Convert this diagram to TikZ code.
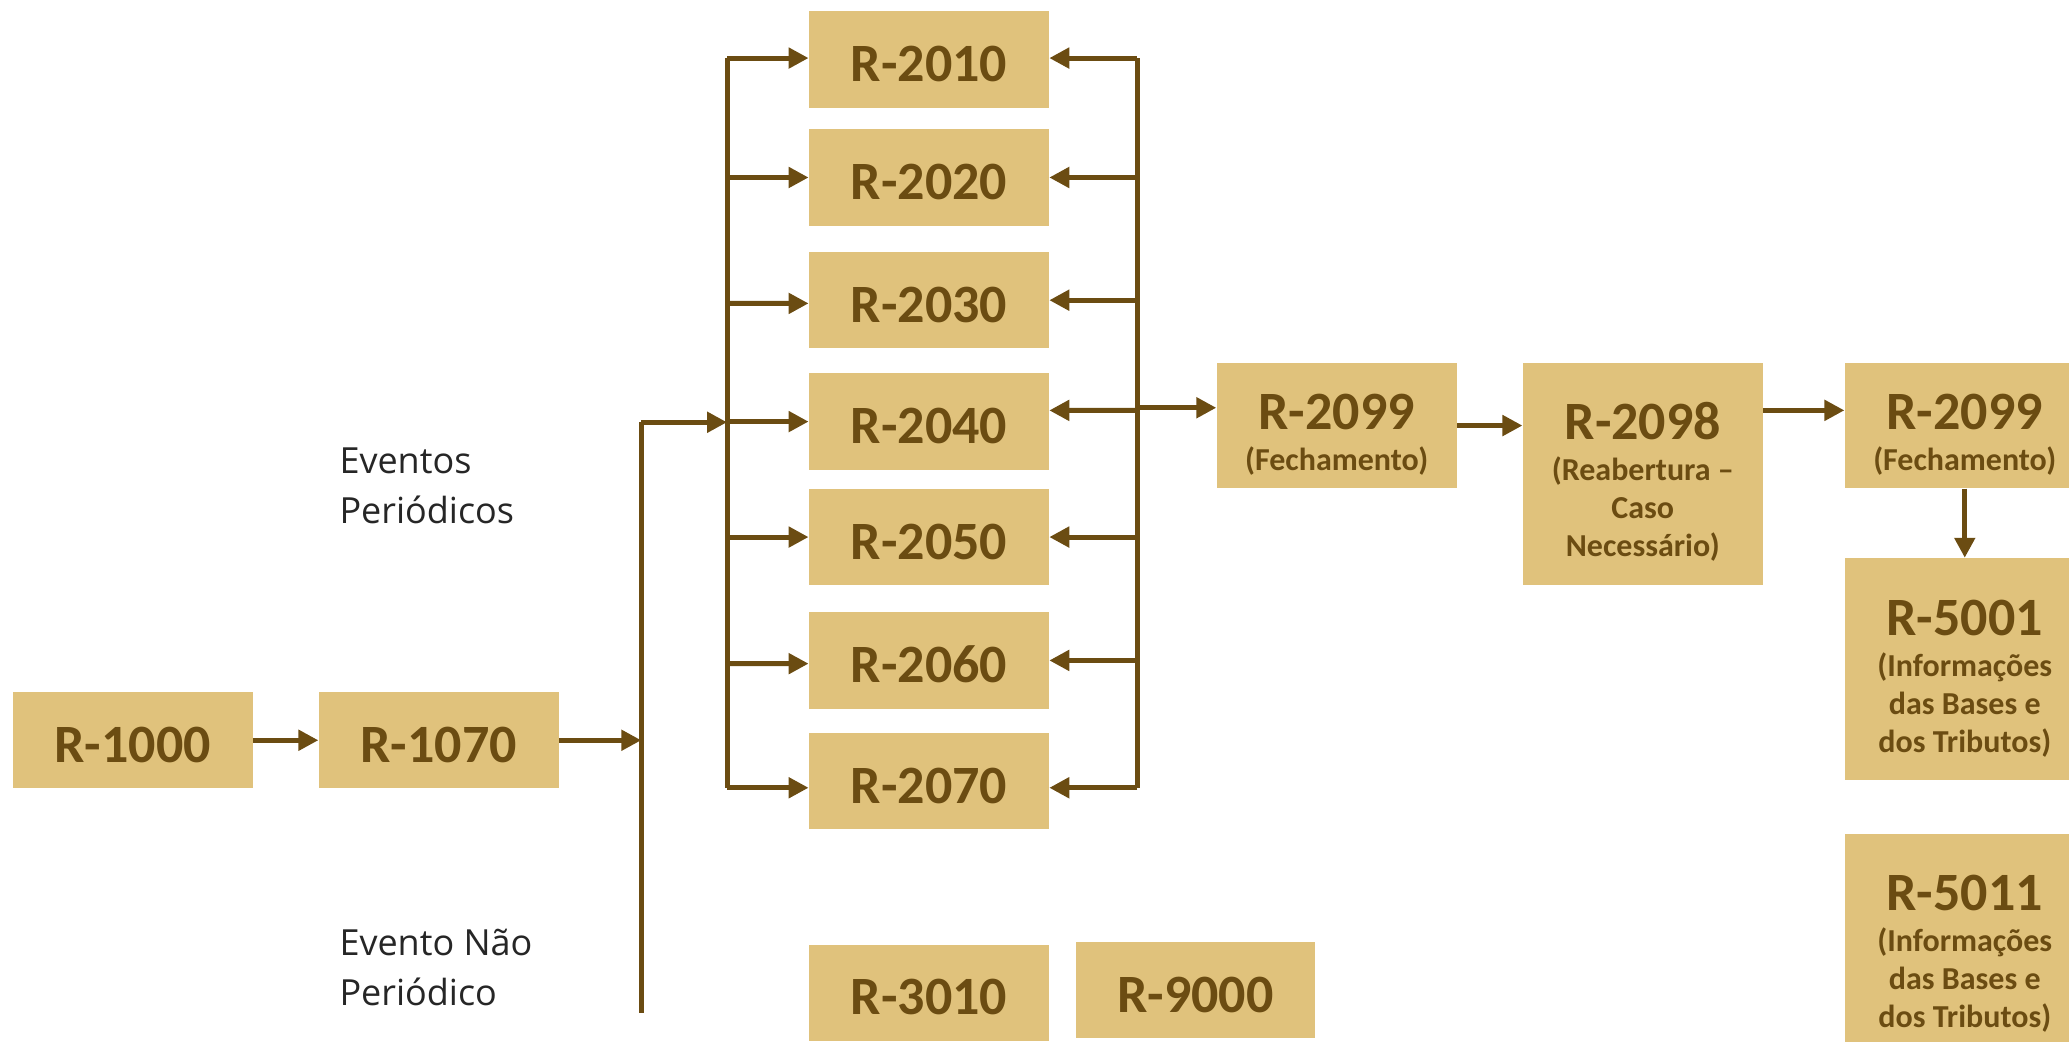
\documentclass[tikz,border=0pt]{standalone}
\usepackage{fontspec}
\setmainfont{Carlito}
\newfontfamily\sidefont{Open Sans}
\usetikzlibrary{arrows.meta,positioning}

\definecolor{boxfill}{HTML}{E0C27C}
\definecolor{boxink}{HTML}{6B4C12}
\definecolor{sideink}{HTML}{262626}

\newcommand{\regtitle}{\fontsize{27}{30}\selectfont\bfseries}
\newcommand{\regsub}{\fontsize{16}{19}\selectfont\bfseries}
\newcommand{\titlestrut}{\rule{0pt}{27pt}}

\tikzset{
  regbase/.style={fill=boxfill, text=boxink, inner sep=0pt,
    minimum width=120pt, align=center},
  reg/.style={regbase, minimum height=48.2pt, font=\regtitle,
    text height=22pt, text depth=0pt},
  regmulti/.style={regbase, font=\regsub},
  link/.style={draw=boxink, line width=2.5pt, -{Triangle[length=10pt,width=10pt]}},
  bus/.style={draw=boxink, line width=2.5pt},
  side/.style={text=sideink, inner sep=0pt, anchor=west, align=left,
    font=\sidefont\fontsize{18}{25}\selectfont}
}

\begin{document}
\begin{tikzpicture}[x=0.66pt,y=-0.66pt]
    \useasboundingbox (0,0) rectangle (1568,789);
    \clip (0,0) rectangle (1568,789);

    \node[reg] (r1000) at (100.5,561) {R-1000};
    \node[reg] (r1070) at (332.5,561) {R-1070};

    \node[reg] (r2010) at (704,45) {R-2010};
    \node[reg] (r2020) at (704,134.5) {R-2020};
    \node[reg] (r2030) at (704,227.5) {R-2030};
    \node[reg] (r2040) at (704,319.5) {R-2040};
    \node[reg] (r2050) at (704,407) {R-2050};
    \node[reg] (r2060) at (704,500.5) {R-2060};
    \node[reg] (r2070) at (704,592) {R-2070};

    \node[reg] (r3010) at (704,752.5) {R-3010};
    \node[reg] (r9000) at (906,750.5) {R-9000};

    \node[regmulti,minimum height=62.7pt] (r2099a) at (1013,322.5)
        {{\regtitle\titlestrut R-2099}\\[1.6pt](Fechamento)};
    \node[regmulti,minimum height=110.9pt] (r2098) at (1245,359)
        {{\regtitle\titlestrut R-2098}\\[1.6pt](Reabertura –\\Caso\\Necessário)};
    \node[regmulti,minimum height=62.7pt] (r2099b) at (1489,322.5)
        {{\regtitle\titlestrut R-2099}\\[1.6pt](Fechamento)};
    \node[regmulti,minimum height=110.9pt] (r5001) at (1489,507)
        {{\regtitle\titlestrut R-5001}\\[1.6pt](Informações\\das Bases e\\dos Tributos)};
    \node[regmulti,minimum height=110.9pt] (r5011) at (1489,716)
        {{\regtitle\titlestrut R-5011}\\[1.6pt](Informações\\das Bases e\\dos Tributos)};

    \node[side] (periodic) at (257,368) {Eventos\\Periódicos};
    \node[side] (nonperiodic) at (257,733) {Evento Não\\Periódico};

    % buses
    \coordinate (lbus1top) at (486,320);
    \coordinate (lbus1bot) at (486,768);
    \coordinate (lbus2top) at (551,44);
    \coordinate (lbus2bot) at (551,597);
    \coordinate (rbustop) at (862,44);
    \coordinate (rbusbot) at (862,597);

    \draw[link] (r1000) -- (r1070);
    \draw[link] (r1070.east) -- (r1070.east -| lbus1top);
    \draw[bus] (lbus1top) -- (lbus1bot);
    \draw[link] (lbus1top) -- (lbus1top -| lbus2top);
    \draw[bus] (lbus2top) -- (lbus2bot);

    \draw[link] (lbus2top) -- (r2010.west |- lbus2top);
    \draw[link] (lbus2top |- r2020.west) -- (r2020.west);
    \draw[link] (lbus2top |- r2030.west) ++(0,2.5) -- ([yshift=-1.6pt]r2030.west);
    \draw[link] (lbus2top |- r2040.west) -- (r2040.west);
    \draw[link] (lbus2top |- r2050.west) -- (r2050.west);
    \draw[link] (lbus2top |- r2060.west) ++(0,2.5) -- ([yshift=-1.6pt]r2060.west);
    \draw[link] (lbus2bot) -- (r2070.west |- lbus2bot);

    \draw[bus] (rbustop) -- (rbusbot);
    \draw[link] (rbustop) -- (r2010.east |- rbustop);
    \draw[link] (rbustop |- r2020.east) -- (r2020.east);
    \draw[link] (rbustop |- r2030.east) -- (r2030.east);
    \draw[link] (rbustop |- r2040.east) ++(0,-8.5) -- ([yshift=5.6pt]r2040.east);
    \draw[link] (rbustop |- r2050.east) -- (r2050.east);
    \draw[link] (rbustop |- r2060.east) -- (r2060.east);
    \draw[link] (rbusbot) -- (r2070.east |- rbusbot);

    \coordinate (feed) at ([yshift=8.9pt]r2099a.west);
    \draw[link] (rbustop |- feed) -- (feed);
    \draw[link] (r2099a.east) -- (r2099a.east -| r2098.west);
    \coordinate (reopen) at ([yshift=7.6pt]r2099b.west);
    \draw[link] (r2098.east |- reopen) -- (reopen);
    \draw[link] (r2099b.south) -- (r5001.north);
\end{tikzpicture}
\end{document}
